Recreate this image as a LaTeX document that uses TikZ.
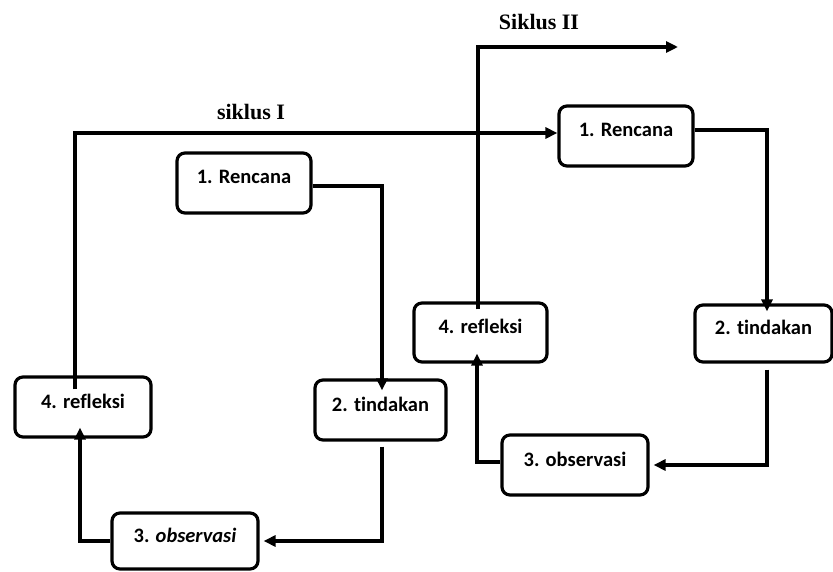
\documentclass[tikz,border=0pt]{standalone}
\usepackage{fontspec}
\setmainfont{Liberation Serif}
\newfontfamily\boxfont[Ligatures=NoCommon]{Carlito}
\usetikzlibrary{arrows.meta}
\begin{document}
\begin{tikzpicture}[x=1pt,y=-1pt,
  stagebox/.style={draw, line width=3.2pt, rounded corners=8pt, fill=white,
    inner sep=0pt, font=\boxfont\bfseries\fontsize{20.5}{23}\selectfont,
    text height=14pt, text depth=12pt},
  flow/.style={line width=3.4pt, -{Triangle[length=12pt,width=11pt]}},
  cyclabel/.style={font=\bfseries\fontsize{22}{25}\selectfont}]
\useasboundingbox (0,0) rectangle (833,572);
% cycle labels
\node[cyclabel] (lab1) at (251,112) {siklus I};
\node[cyclabel] (lab2) at (539,22) {Siklus II};
% cycle I boxes
\node[stagebox, minimum width=134pt, minimum height=60pt] (r1) at (244,183) {1. Rencana};
\node[stagebox, minimum width=131pt, minimum height=60pt] (t1) at (380.5,410) {2. tindakan};
\node[stagebox, minimum width=146pt, minimum height=56pt] (o1) at (185,541) {3. \textit{observasi}};
\node[stagebox, minimum width=136pt, minimum height=60pt] (f1) at (83,407) {4. refleksi};
% cycle II boxes
\node[stagebox, minimum width=134pt, minimum height=60pt] (r2) at (626,136) {1. Rencana};
\node[stagebox, minimum width=137pt, minimum height=57pt] (t2) at (763.5,333.5) {2. tindakan};
\node[stagebox, minimum width=146pt, minimum height=60pt] (o2) at (575,465) {3. observasi};
\node[stagebox, minimum width=133pt, minimum height=59pt] (f2) at (480.5,332.5) {4. refleksi};
% free ends
\coordinate (s2end) at (678,47);
% cycle I connectors
\draw[flow] (r1.east |- 0,186) -| ([yshift=-12pt]t1.north -| 382,0);
\draw[flow] ([yshift=-5pt]t1.south -| 382,0) |- ([xshift=4pt]o1.east);
\draw[flow] (o1.west) -| ([yshift=11pt]f1.south -| 80,0);
% cycle I -> cycle II
\draw[flow] ([yshift=-14pt]f1.north -| 75,0) |- (r2.west |- 0,133);
% cycle II connectors
\draw[flow] (r2.east |- 0,130) -| ([yshift=-8pt]t2.north -| 767,0);
\draw[flow] ([yshift=-6pt]t2.south -| 767,0) |- ([xshift=4pt]o2.east);
\draw[flow] (o2.west |- 0,462) -| ([yshift=10pt]f2.south -| 477,0);
\draw[flow] ([yshift=-8pt]f2.north -| 478,0) |- (s2end);
\end{tikzpicture}
\end{document}
